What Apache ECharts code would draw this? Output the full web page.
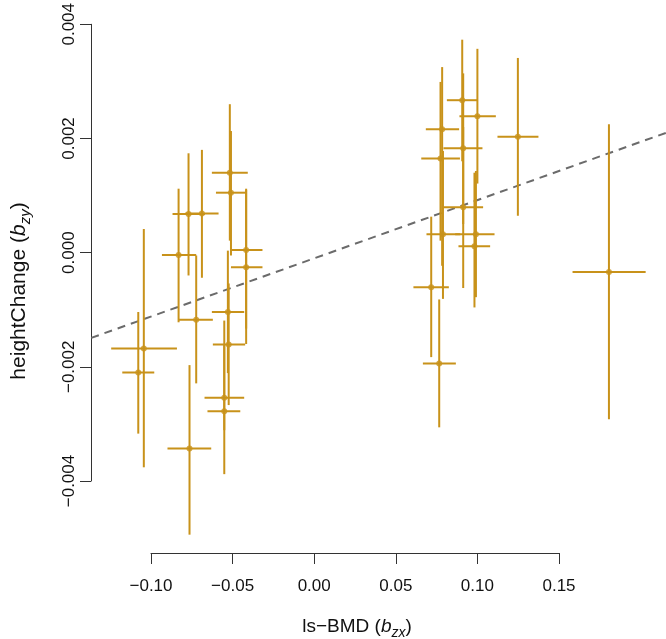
<!DOCTYPE html>
<html>
<head>
<meta charset="utf-8">
<script src="https://cdn.jsdelivr.net/npm/echarts@6/dist/echarts.min.js"></script>
<style>
html,body{margin:0;padding:0;background:#fff;}
#chart{width:666px;height:639px;}
</style>
</head>
<body>
<div id="chart"></div>
<script>
// ---- data ----
var pointX = [-0.1044,-0.1078,-0.0831,-0.0770,-0.0688,-0.0723,-0.0764,-0.0517,-0.0510,-0.0417,-0.0417,-0.0529,-0.0524,-0.0551,-0.0551,
              0.0907,0.0913,0.0913,0.1000,0.1248,0.0784,0.0774,0.0789,0.0991,0.0982,0.0717,0.0766,0.1806];
var pointY = [-0.00168,-0.00210,-0.00004,0.000676,0.000686,-0.001176,-0.00343,0.00140,0.00105,0.000047,-0.000257,-0.00104,-0.00161,-0.00254,-0.00278,
              0.00267,0.00183,0.000795,0.00239,0.00203,0.00216,0.00165,0.00032,0.00032,0.00011,-0.000606,-0.00194,-0.00034];
var xLow   = [-0.1244,-0.1176,-0.0933,-0.0868,-0.0790,-0.0831,-0.0899,-0.0627,-0.0602,-0.0510,-0.0510,-0.0627,-0.0621,-0.0672,-0.0654,
              0.0813,0.0792,0.0790,0.0890,0.1123,0.0684,0.0656,0.0688,0.0864,0.0884,0.0608,0.0666,0.1583];
var xHigh  = [-0.0841,-0.0980,-0.0723,-0.0670,-0.0586,-0.0621,-0.0631,-0.0407,-0.0419,-0.0317,-0.0317,-0.0429,-0.0423,-0.0429,-0.0453,
              0.1000,0.1031,0.1035,0.1113,0.1374,0.0888,0.0893,0.0895,0.1105,0.1078,0.0825,0.0868,0.2031];
var yLow   = [-0.00376,-0.00317,-0.00122,-0.00040,-0.00044,-0.00229,-0.00494,0.00021,-0.00005,-0.00133,-0.00160,-0.00211,-0.00267,-0.00311,-0.00388,
              0.00160,0.00050,-0.00062,0.00121,0.000646,-0.00023,0.00021,-0.00081,-0.00078,-0.00096,-0.00183,-0.00306,-0.00292];
var yHigh  = [0.000414,-0.00104,0.00112,0.00174,0.00180,-0.00005,-0.00197,0.00260,0.00213,0.00112,0.00110,0.000035,-0.00054,-0.00119,-0.00162,
              0.00373,0.00314,0.00220,0.00357,0.00341,0.00325,0.00299,0.00178,0.00143,0.00140,0.00063,-0.00082,0.00225];
var fitLineX = [-0.1366, 0.2157];
var fitLineY = [-0.001493, 0.00210];
var xTicks = [-0.10, -0.05, 0.00, 0.05, 0.10, 0.15];
var yTicks = [-0.004, -0.002, 0.000, 0.002, 0.004];

// ---- build ----
var gold = '#C8921A';
var barData = pointX.map(function(x, i){ return [x, pointY[i], xLow[i], xHigh[i], yLow[i], yHigh[i]]; });
var ptData = pointX.map(function(x, i){ return [x, pointY[i]]; });
var lineData = [[fitLineX[0], fitLineY[0], fitLineX[1], fitLineY[1]]];

function fmt(v, d){ var s = Math.abs(v) < 1e-12 ? (0).toFixed(d) : v.toFixed(d); return s.replace('-', '\u2212'); }

var chart = echarts.init(document.getElementById('chart'), null, {renderer:'canvas'});
var font = '"Liberation Sans", Arial, Helvetica, sans-serif';
function titleRich(fs, ss){
  return {
    n: {fontSize: fs, fontFamily: font, fill: '#111', lineHeight: fs + 7, verticalAlign: 'middle'},
    i: {fontSize: fs, fontFamily: font, fill: '#111', fontStyle: 'italic', lineHeight: fs + 7, verticalAlign: 'middle'},
    s: {fontSize: ss, fontFamily: font, fill: '#111', fontStyle: 'italic', lineHeight: ss + 1, verticalAlign: 'bottom'}
  };
}
chart.setOption({
  animation: false,
  backgroundColor: '#fff',
  grid: {left: 151, right: 107, top: 23, bottom: 158, containLabel: false},
  xAxis: {
    type: 'value', min: xTicks[0], max: xTicks[xTicks.length-1], interval: 0.05, offset: 72,
    axisLine: {show: true, onZero: false, lineStyle: {color: '#333', width: 1}},
    axisTick: {show: true, length: 11, lineStyle: {color: '#333', width: 1}},
    splitLine: {show: false},
    axisLabel: {margin: 25, fontSize: 17, color: '#111', fontFamily: font, formatter: function(v){ return fmt(v, 2); }}
  },
  yAxis: {
    type: 'value', min: yTicks[0], max: yTicks[yTicks.length-1], interval: 0.002, offset: 60,
    axisLine: {show: true, onZero: false, lineStyle: {color: '#333', width: 1}},
    axisTick: {show: true, length: 11, lineStyle: {color: '#333', width: 1}},
    splitLine: {show: false},
    axisLabel: {rotate: 90, margin: 13, fontSize: 17, color: '#111', fontFamily: font, formatter: function(v){ return fmt(v, 3); }}
  },
  graphic: [
    {type: 'text', x: 357, y: 627, style: {
      text: '{n|ls\u2212BMD (}{i|b}{s|zx}{n|)}', align: 'center', verticalAlign: 'middle', rich: titleRich(19, 14)}},
    {type: 'text', x: 19, y: 291, rotation: Math.PI/2, style: {
      text: '{n|heightChange (}{i|b}{s|zy}{n|)}', align: 'center', verticalAlign: 'middle', rich: titleRich(21, 15)}}
  ],
  series: [
    {
      type: 'custom', data: lineData, clip: false, silent: true, z: 1,
      renderItem: function(params, api){
        var a = api.coord([api.value(0), api.value(1)]);
        var b = api.coord([api.value(2), api.value(3)]);
        return {type: 'line', shape: {x1: a[0], y1: a[1], x2: b[0], y2: b[1]},
                style: {stroke: '#6b6b6b', lineWidth: 2, lineDash: [8, 6]}};
      },
      encode: {x: [0, 2], y: [1, 3]}
    },
    {
      type: 'custom', data: barData, clip: false, silent: true, z: 2,
      renderItem: function(params, api){
        var c = api.coord([api.value(0), api.value(1)]);
        var xl = api.coord([api.value(2), api.value(1)]);
        var xh = api.coord([api.value(3), api.value(1)]);
        var yl = api.coord([api.value(0), api.value(4)]);
        var yh = api.coord([api.value(0), api.value(5)]);
        var st = {stroke: gold, lineWidth: 2};
        return {type: 'group', children: [
          {type: 'line', shape: {x1: xl[0], y1: c[1], x2: xh[0], y2: c[1]}, style: st},
          {type: 'line', shape: {x1: c[0], y1: yl[1], x2: c[0], y2: yh[1]}, style: st}
        ]};
      },
      encode: {x: 0, y: 1}
    },
    {
      type: 'scatter', data: ptData, clip: false, symbol: 'circle', symbolSize: 6, silent: true, z: 3,
      itemStyle: {color: gold}
    }
  ]
});
</script>
</body>
</html>
